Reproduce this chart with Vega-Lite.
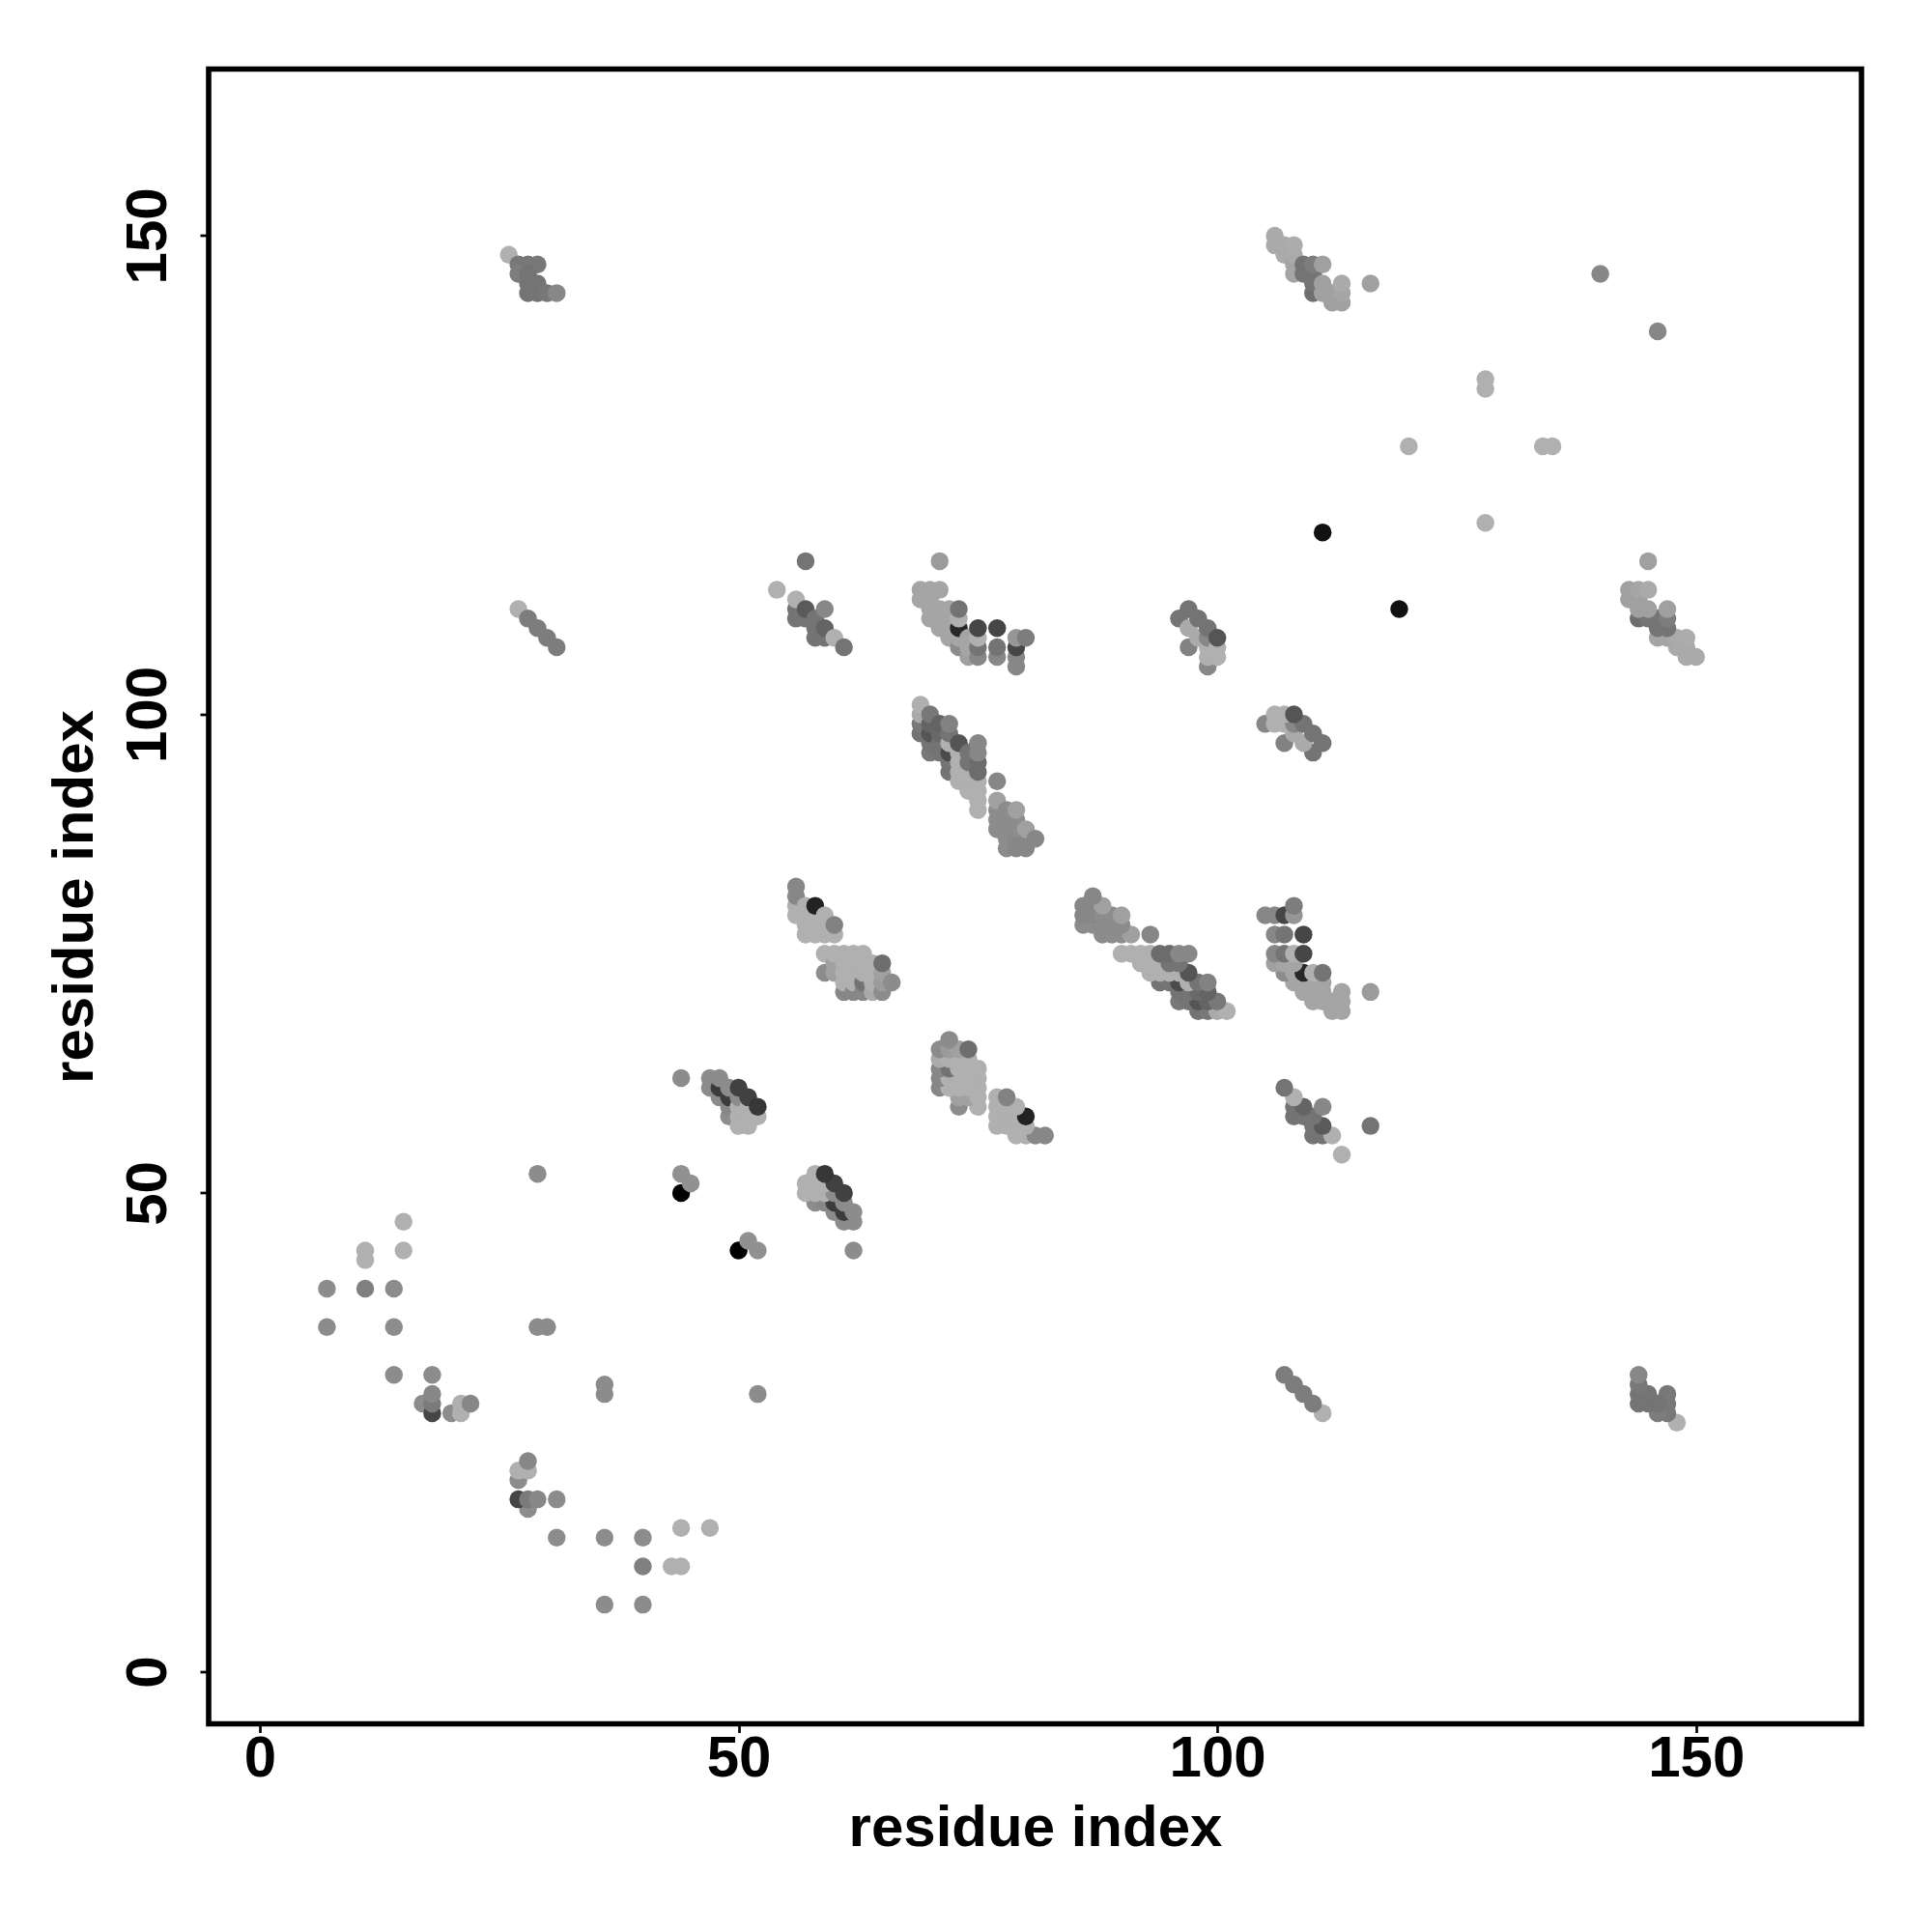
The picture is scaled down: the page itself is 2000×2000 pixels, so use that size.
{"$schema":"https://vega.github.io/schema/vega-lite/v6.json","width":1711,"height":1713,"autosize":{"type":"none"},"padding":{"left":216,"top":71.5,"right":73,"bottom":215.5},"background":"white","config":{"view":{"stroke":"#000","strokeWidth":5.6}},
"data":{"values":[
{"i":7,"j":36,"g":140},{"i":7,"j":40,"g":140},{"i":11,"j":40,"g":128},{"i":11,"j":43,"g":176},{"i":11,"j":44,"g":176},{"i":14,"j":31,"g":140},{"i":14,"j":36,"g":140},{"i":14,"j":40,"g":140},{"i":15,"j":44,"g":176},{"i":15,"j":47,"g":176},{"i":17,"j":28,"g":140},{"i":18,"j":27,"g":70},{"i":18,"j":28,"g":122},{"i":18,"j":29,"g":135},{"i":18,"j":31,"g":140},{"i":20,"j":27,"g":140},{"i":21,"j":27,"g":176},{"i":21,"j":28,"g":176},{"i":22,"j":28,"g":135},{"i":29,"j":36,"g":140},{"i":30,"j":36,"g":140},{"i":29,"j":52,"g":140},{"i":44,"j":50,"g":0},{"i":44,"j":52,"g":145},{"i":45,"j":51,"g":145},{"i":44,"j":62,"g":140},
{"i":26,"j":148,"g":176},{"i":27,"j":147,"g":120},{"i":28,"j":147,"g":120},{"i":29,"j":147,"g":120},{"i":27,"j":146,"g":125},{"i":28,"j":146,"g":116},{"i":28,"j":145,"g":116},{"i":29,"j":145,"g":116},{"i":28,"j":144,"g":116},{"i":29,"j":144,"g":116},{"i":30,"j":144,"g":120},{"i":31,"j":144,"g":135},{"i":27,"j":111,"g":176},{"i":28,"j":110,"g":125},{"i":29,"j":109,"g":125},{"i":30,"j":108,"g":125},{"i":31,"j":107,"g":125},
{"i":47,"j":61,"g":140},{"i":47,"j":62,"g":140},{"i":48,"j":60,"g":140},{"i":48,"j":61,"g":60},{"i":48,"j":62,"g":140},{"i":49,"j":58,"g":140},{"i":49,"j":59,"g":135},{"i":49,"j":60,"g":60},{"i":49,"j":61,"g":140},{"i":50,"j":57,"g":176},{"i":50,"j":58,"g":176},{"i":50,"j":59,"g":176},{"i":50,"j":60,"g":140},{"i":50,"j":61,"g":65},{"i":51,"j":57,"g":176},{"i":51,"j":58,"g":176},{"i":51,"j":59,"g":176},{"i":51,"j":60,"g":65},{"i":52,"j":58,"g":176},{"i":52,"j":59,"g":55},
{"i":56,"j":79,"g":176},{"i":56,"j":80,"g":176},{"i":56,"j":81,"g":135},{"i":56,"j":82,"g":135},{"i":57,"j":77,"g":176},{"i":57,"j":78,"g":176},{"i":57,"j":79,"g":176},{"i":57,"j":80,"g":176},{"i":58,"j":77,"g":176},{"i":58,"j":78,"g":176},{"i":58,"j":79,"g":176},{"i":58,"j":80,"g":34},{"i":59,"j":73,"g":140},{"i":59,"j":75,"g":176},{"i":59,"j":77,"g":176},{"i":59,"j":78,"g":176},{"i":59,"j":79,"g":176},{"i":60,"j":73,"g":160},{"i":60,"j":74,"g":160},{"i":60,"j":75,"g":176},{"i":60,"j":77,"g":176},{"i":60,"j":78,"g":130},{"i":61,"j":71,"g":135},{"i":61,"j":72,"g":176},{"i":61,"j":73,"g":176},{"i":61,"j":74,"g":176},{"i":61,"j":75,"g":176},{"i":62,"j":71,"g":135},{"i":62,"j":72,"g":176},{"i":62,"j":73,"g":176},{"i":62,"j":74,"g":176},{"i":62,"j":75,"g":176},{"i":63,"j":71,"g":135},{"i":63,"j":72,"g":115},{"i":63,"j":73,"g":176},{"i":63,"j":74,"g":176},{"i":63,"j":75,"g":176},{"i":64,"j":71,"g":170},{"i":64,"j":72,"g":176},{"i":64,"j":73,"g":176},{"i":64,"j":74,"g":176},{"i":65,"j":71,"g":140},{"i":65,"j":72,"g":155},{"i":65,"j":73,"g":160},{"i":65,"j":74,"g":110},{"i":66,"j":72,"g":140},
{"i":69,"j":98,"g":115},{"i":69,"j":99,"g":120},{"i":69,"j":100,"g":170},{"i":69,"j":101,"g":176},{"i":70,"j":96,"g":120},{"i":70,"j":97,"g":116},{"i":70,"j":98,"g":85},{"i":70,"j":99,"g":100},{"i":70,"j":100,"g":120},{"i":71,"j":96,"g":116},{"i":71,"j":97,"g":116},{"i":71,"j":98,"g":105},{"i":71,"j":99,"g":100},{"i":72,"j":94,"g":116},{"i":72,"j":95,"g":116},{"i":72,"j":96,"g":75},{"i":72,"j":97,"g":176},{"i":72,"j":98,"g":116},{"i":72,"j":99,"g":130},{"i":73,"j":93,"g":176},{"i":73,"j":94,"g":176},{"i":73,"j":95,"g":176},{"i":73,"j":96,"g":176},{"i":73,"j":97,"g":85},{"i":74,"j":92,"g":176},{"i":74,"j":93,"g":176},{"i":74,"j":94,"g":176},{"i":74,"j":95,"g":116},{"i":74,"j":96,"g":116},{"i":75,"j":90,"g":176},{"i":75,"j":91,"g":176},{"i":75,"j":92,"g":176},{"i":75,"j":93,"g":176},{"i":75,"j":94,"g":108},{"i":75,"j":95,"g":108},{"i":75,"j":96,"g":135},{"i":75,"j":97,"g":135},{"i":77,"j":88,"g":140},{"i":77,"j":89,"g":140},{"i":77,"j":90,"g":140},{"i":77,"j":91,"g":160},{"i":77,"j":93,"g":135},{"i":78,"j":86,"g":140},{"i":78,"j":87,"g":140},{"i":78,"j":88,"g":140},{"i":78,"j":89,"g":140},{"i":78,"j":90,"g":140},{"i":79,"j":86,"g":135},{"i":79,"j":87,"g":135},{"i":79,"j":88,"g":140},{"i":79,"j":89,"g":140},{"i":79,"j":90,"g":160},{"i":80,"j":86,"g":135},{"i":80,"j":87,"g":135},{"i":80,"j":88,"g":160},{"i":81,"j":87,"g":135},
{"i":96,"j":110,"g":116},{"i":97,"j":107,"g":130},{"i":97,"j":109,"g":170},{"i":97,"j":111,"g":116},{"i":98,"j":108,"g":170},{"i":98,"j":110,"g":116},{"i":99,"j":105,"g":135},{"i":99,"j":106,"g":176},{"i":99,"j":107,"g":176},{"i":99,"j":108,"g":135},{"i":99,"j":109,"g":116},{"i":100,"j":106,"g":176},{"i":100,"j":107,"g":176},{"i":100,"j":108,"g":85},
{"i":69,"j":112,"g":165},{"i":69,"j":113,"g":165},{"i":70,"j":110,"g":165},{"i":70,"j":111,"g":165},{"i":70,"j":112,"g":165},{"i":70,"j":113,"g":165},{"i":71,"j":109,"g":165},{"i":71,"j":110,"g":165},{"i":71,"j":111,"g":165},{"i":71,"j":113,"g":165},{"i":71,"j":116,"g":155},{"i":72,"j":108,"g":165},{"i":72,"j":109,"g":165},{"i":72,"j":110,"g":165},{"i":72,"j":111,"g":165},{"i":73,"j":107,"g":140},{"i":73,"j":108,"g":165},{"i":73,"j":109,"g":40},{"i":73,"j":110,"g":176},{"i":73,"j":111,"g":116},{"i":74,"j":106,"g":160},{"i":74,"j":107,"g":165},{"i":74,"j":108,"g":165},{"i":75,"j":106,"g":135},{"i":75,"j":107,"g":116},{"i":75,"j":108,"g":176},{"i":75,"j":109,"g":70},{"i":77,"j":106,"g":135},{"i":77,"j":107,"g":116},{"i":77,"j":109,"g":70},{"i":79,"j":105,"g":135},{"i":79,"j":106,"g":135},{"i":79,"j":107,"g":70},{"i":79,"j":108,"g":150},{"i":80,"j":108,"g":125},
{"i":54,"j":113,"g":176},{"i":56,"j":110,"g":116},{"i":56,"j":111,"g":116},{"i":56,"j":112,"g":176},{"i":57,"j":110,"g":116},{"i":57,"j":111,"g":90},{"i":57,"j":116,"g":116},{"i":58,"j":108,"g":116},{"i":58,"j":109,"g":116},{"i":58,"j":110,"g":116},{"i":59,"j":108,"g":116},{"i":59,"j":109,"g":100},{"i":59,"j":111,"g":135},{"i":60,"j":108,"g":176},{"i":61,"j":107,"g":116},
{"i":106,"j":149,"g":170},{"i":106,"j":150,"g":170},{"i":107,"j":148,"g":170},{"i":107,"j":149,"g":170},{"i":108,"j":146,"g":165},{"i":108,"j":147,"g":165},{"i":108,"j":148,"g":170},{"i":108,"j":149,"g":172},{"i":109,"j":146,"g":116},{"i":109,"j":147,"g":116},{"i":110,"j":144,"g":110},{"i":110,"j":145,"g":116},{"i":110,"j":146,"g":116},{"i":110,"j":147,"g":125},{"i":111,"j":144,"g":160},{"i":111,"j":145,"g":160},{"i":111,"j":147,"g":160},{"i":112,"j":143,"g":160},{"i":112,"j":144,"g":160},{"i":113,"j":143,"g":160},{"i":113,"j":144,"g":165},{"i":113,"j":145,"g":170},{"i":116,"j":145,"g":160},
{"i":111,"j":119,"g":17},{"i":120,"j":128,"g":176},{"i":128,"j":134,"g":176},{"i":128,"j":135,"g":176},{"i":140,"j":146,"g":135},

{"i":36,"j":7,"g":140},{"i":40,"j":7,"g":140},{"i":40,"j":11,"g":128},{"i":43,"j":11,"g":176},{"i":44,"j":11,"g":176},{"i":31,"j":14,"g":140},{"i":36,"j":14,"g":140},{"i":40,"j":14,"g":140},{"i":44,"j":15,"g":176},{"i":47,"j":15,"g":176},{"i":28,"j":17,"g":140},{"i":27,"j":18,"g":70},{"i":28,"j":18,"g":122},{"i":29,"j":18,"g":135},{"i":31,"j":18,"g":140},{"i":27,"j":20,"g":140},{"i":27,"j":21,"g":176},{"i":28,"j":21,"g":176},{"i":28,"j":22,"g":135},{"i":36,"j":29,"g":140},{"i":36,"j":30,"g":140},{"i":52,"j":29,"g":140},{"i":50,"j":44,"g":0},{"i":52,"j":44,"g":145},{"i":51,"j":45,"g":145},{"i":62,"j":44,"g":140},
{"i":148,"j":26,"g":176},{"i":147,"j":27,"g":120},{"i":147,"j":28,"g":120},{"i":147,"j":29,"g":120},{"i":146,"j":27,"g":125},{"i":146,"j":28,"g":116},{"i":145,"j":28,"g":116},{"i":145,"j":29,"g":116},{"i":144,"j":28,"g":116},{"i":144,"j":29,"g":116},{"i":144,"j":30,"g":120},{"i":144,"j":31,"g":135},{"i":111,"j":27,"g":176},{"i":110,"j":28,"g":125},{"i":109,"j":29,"g":125},{"i":108,"j":30,"g":125},{"i":107,"j":31,"g":125},
{"i":61,"j":47,"g":140},{"i":62,"j":47,"g":140},{"i":60,"j":48,"g":140},{"i":61,"j":48,"g":60},{"i":62,"j":48,"g":140},{"i":58,"j":49,"g":140},{"i":59,"j":49,"g":135},{"i":60,"j":49,"g":60},{"i":61,"j":49,"g":140},{"i":57,"j":50,"g":176},{"i":58,"j":50,"g":176},{"i":59,"j":50,"g":176},{"i":60,"j":50,"g":140},{"i":61,"j":50,"g":65},{"i":57,"j":51,"g":176},{"i":58,"j":51,"g":176},{"i":59,"j":51,"g":176},{"i":60,"j":51,"g":65},{"i":58,"j":52,"g":176},{"i":59,"j":52,"g":55},
{"i":79,"j":56,"g":176},{"i":80,"j":56,"g":176},{"i":81,"j":56,"g":135},{"i":82,"j":56,"g":135},{"i":77,"j":57,"g":176},{"i":78,"j":57,"g":176},{"i":79,"j":57,"g":176},{"i":80,"j":57,"g":176},{"i":77,"j":58,"g":176},{"i":78,"j":58,"g":176},{"i":79,"j":58,"g":176},{"i":80,"j":58,"g":34},{"i":73,"j":59,"g":140},{"i":75,"j":59,"g":176},{"i":77,"j":59,"g":176},{"i":78,"j":59,"g":176},{"i":79,"j":59,"g":176},{"i":73,"j":60,"g":160},{"i":74,"j":60,"g":160},{"i":75,"j":60,"g":176},{"i":77,"j":60,"g":176},{"i":78,"j":60,"g":130},{"i":71,"j":61,"g":135},{"i":72,"j":61,"g":176},{"i":73,"j":61,"g":176},{"i":74,"j":61,"g":176},{"i":75,"j":61,"g":176},{"i":71,"j":62,"g":135},{"i":72,"j":62,"g":176},{"i":73,"j":62,"g":176},{"i":74,"j":62,"g":176},{"i":75,"j":62,"g":176},{"i":71,"j":63,"g":135},{"i":72,"j":63,"g":115},{"i":73,"j":63,"g":176},{"i":74,"j":63,"g":176},{"i":75,"j":63,"g":176},{"i":71,"j":64,"g":170},{"i":72,"j":64,"g":176},{"i":73,"j":64,"g":176},{"i":74,"j":64,"g":176},{"i":71,"j":65,"g":140},{"i":72,"j":65,"g":155},{"i":73,"j":65,"g":160},{"i":74,"j":65,"g":110},{"i":72,"j":66,"g":140},
{"i":98,"j":69,"g":115},{"i":99,"j":69,"g":120},{"i":100,"j":69,"g":170},{"i":101,"j":69,"g":176},{"i":96,"j":70,"g":120},{"i":97,"j":70,"g":116},{"i":98,"j":70,"g":85},{"i":99,"j":70,"g":100},{"i":100,"j":70,"g":120},{"i":96,"j":71,"g":116},{"i":97,"j":71,"g":116},{"i":98,"j":71,"g":105},{"i":99,"j":71,"g":100},{"i":94,"j":72,"g":116},{"i":95,"j":72,"g":116},{"i":96,"j":72,"g":75},{"i":97,"j":72,"g":176},{"i":98,"j":72,"g":116},{"i":99,"j":72,"g":130},{"i":93,"j":73,"g":176},{"i":94,"j":73,"g":176},{"i":95,"j":73,"g":176},{"i":96,"j":73,"g":176},{"i":97,"j":73,"g":85},{"i":92,"j":74,"g":176},{"i":93,"j":74,"g":176},{"i":94,"j":74,"g":176},{"i":95,"j":74,"g":116},{"i":96,"j":74,"g":116},{"i":90,"j":75,"g":176},{"i":91,"j":75,"g":176},{"i":92,"j":75,"g":176},{"i":93,"j":75,"g":176},{"i":94,"j":75,"g":108},{"i":95,"j":75,"g":108},{"i":96,"j":75,"g":135},{"i":97,"j":75,"g":135},{"i":88,"j":77,"g":140},{"i":89,"j":77,"g":140},{"i":90,"j":77,"g":140},{"i":91,"j":77,"g":160},{"i":93,"j":77,"g":135},{"i":86,"j":78,"g":140},{"i":87,"j":78,"g":140},{"i":88,"j":78,"g":140},{"i":89,"j":78,"g":140},{"i":90,"j":78,"g":140},{"i":86,"j":79,"g":135},{"i":87,"j":79,"g":135},{"i":88,"j":79,"g":140},{"i":89,"j":79,"g":140},{"i":90,"j":79,"g":160},{"i":86,"j":80,"g":135},{"i":87,"j":80,"g":135},{"i":88,"j":80,"g":160},{"i":87,"j":81,"g":135},
{"i":110,"j":96,"g":116},{"i":107,"j":97,"g":130},{"i":109,"j":97,"g":170},{"i":111,"j":97,"g":116},{"i":108,"j":98,"g":170},{"i":110,"j":98,"g":116},{"i":105,"j":99,"g":135},{"i":106,"j":99,"g":176},{"i":107,"j":99,"g":176},{"i":108,"j":99,"g":135},{"i":109,"j":99,"g":116},{"i":106,"j":100,"g":176},{"i":107,"j":100,"g":176},{"i":108,"j":100,"g":85},
{"i":112,"j":69,"g":165},{"i":113,"j":69,"g":165},{"i":110,"j":70,"g":165},{"i":111,"j":70,"g":165},{"i":112,"j":70,"g":165},{"i":113,"j":70,"g":165},{"i":109,"j":71,"g":165},{"i":110,"j":71,"g":165},{"i":111,"j":71,"g":165},{"i":113,"j":71,"g":165},{"i":116,"j":71,"g":155},{"i":108,"j":72,"g":165},{"i":109,"j":72,"g":165},{"i":110,"j":72,"g":165},{"i":111,"j":72,"g":165},{"i":107,"j":73,"g":140},{"i":108,"j":73,"g":165},{"i":109,"j":73,"g":40},{"i":110,"j":73,"g":176},{"i":111,"j":73,"g":116},{"i":106,"j":74,"g":160},{"i":107,"j":74,"g":165},{"i":108,"j":74,"g":165},{"i":106,"j":75,"g":135},{"i":107,"j":75,"g":116},{"i":108,"j":75,"g":176},{"i":109,"j":75,"g":70},{"i":106,"j":77,"g":135},{"i":107,"j":77,"g":116},{"i":109,"j":77,"g":70},{"i":105,"j":79,"g":135},{"i":106,"j":79,"g":135},{"i":107,"j":79,"g":70},{"i":108,"j":79,"g":150},{"i":108,"j":80,"g":125},
{"i":113,"j":54,"g":176},{"i":110,"j":56,"g":116},{"i":111,"j":56,"g":116},{"i":112,"j":56,"g":176},{"i":110,"j":57,"g":116},{"i":111,"j":57,"g":90},{"i":116,"j":57,"g":116},{"i":108,"j":58,"g":116},{"i":109,"j":58,"g":116},{"i":110,"j":58,"g":116},{"i":108,"j":59,"g":116},{"i":109,"j":59,"g":100},{"i":111,"j":59,"g":135},{"i":108,"j":60,"g":176},{"i":107,"j":61,"g":116},
{"i":149,"j":106,"g":170},{"i":150,"j":106,"g":170},{"i":148,"j":107,"g":170},{"i":149,"j":107,"g":170},{"i":146,"j":108,"g":165},{"i":147,"j":108,"g":165},{"i":148,"j":108,"g":170},{"i":149,"j":108,"g":172},{"i":146,"j":109,"g":116},{"i":147,"j":109,"g":116},{"i":144,"j":110,"g":110},{"i":145,"j":110,"g":116},{"i":146,"j":110,"g":116},{"i":147,"j":110,"g":125},{"i":144,"j":111,"g":160},{"i":145,"j":111,"g":160},{"i":147,"j":111,"g":160},{"i":143,"j":112,"g":160},{"i":144,"j":112,"g":160},{"i":143,"j":113,"g":160},{"i":144,"j":113,"g":165},{"i":145,"j":113,"g":170},{"i":145,"j":116,"g":160},
{"i":119,"j":111,"g":17},{"i":128,"j":120,"g":176},{"i":134,"j":128,"g":176},{"i":135,"j":128,"g":176},{"i":146,"j":140,"g":135}
]},
"mark":{"type":"circle","size":342,"opacity":1,"strokeWidth":0},
"encoding":{
"x":{"field":"i","type":"quantitative","scale":{"domain":[-5.35,167.28],"nice":false,"zero":false},
"axis":{"title":"residue index","values":[0,50,100,150],"grid":false,"domain":false,"tickColor":"#000","tickWidth":2.7,"tickSize":9,"labelFont":"Liberation Sans","labelFontWeight":"bold","labelFontSize":60,"labelColor":"#000","labelPadding":-2,"titleFont":"Liberation Sans","titleFontWeight":"bold","titleFontSize":60,"titleColor":"#000","titlePadding":13}},
"y":{"field":"j","type":"quantitative","scale":{"domain":[-5.45,167.4],"nice":false,"zero":false},
"axis":{"title":"residue index","values":[0,50,100,150],"grid":false,"domain":false,"tickColor":"#000","tickWidth":2.7,"tickSize":9,"labelAngle":270,"labelFont":"Liberation Sans","labelFontWeight":"bold","labelFontSize":60,"labelColor":"#000","labelPadding":23,"titleFont":"Liberation Sans","titleFontWeight":"bold","titleFontSize":60,"titleColor":"#000","titlePadding":15}},
"color":{"field":"g","type":"quantitative","legend":null,"scale":{"domain":[0,255],"range":["#000000","#ffffff"],"interpolate":"rgb"}},
"order":[{"field":"i","type":"quantitative"},{"field":"j","type":"quantitative"}]
}}
